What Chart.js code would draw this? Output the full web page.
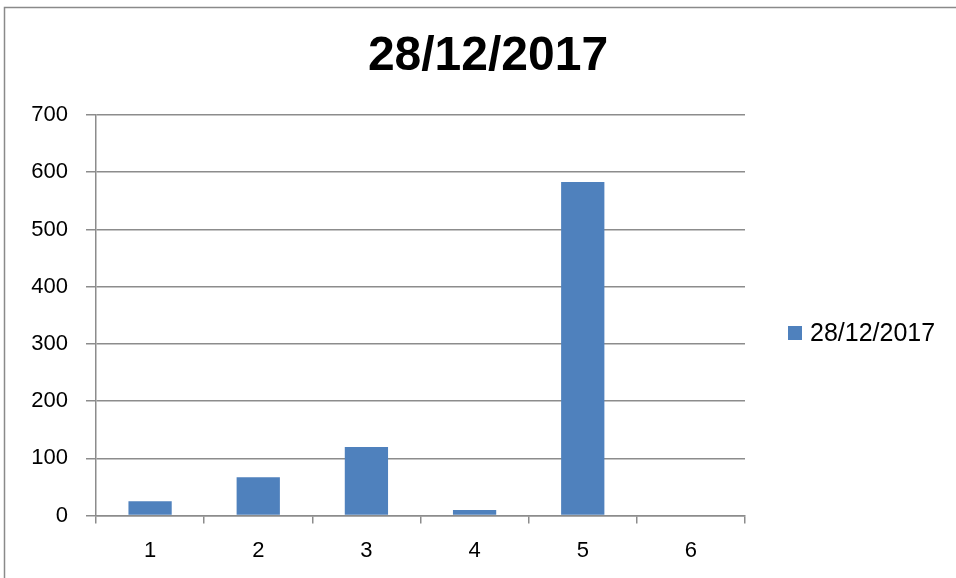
<!DOCTYPE html>
<html>
<head>
<meta charset="utf-8">
<script src="https://cdn.jsdelivr.net/npm/chart.js@4/dist/chart.umd.min.js"></script>
<style>
html,body{margin:0;padding:0;background:#fff;}
#wrap{width:956px;height:578px;position:relative;}
</style>
</head>
<body>
<div id="wrap"><canvas id="c" width="956" height="578"></canvas></div>
<script>
const categories = ["1", "2", "3", "4", "5", "6"];
const seriesName = "28/12/2017";
const values = [25, 67, 120, 10, 583, 0];
const yTicks = [0, 100, 200, 300, 400, 500, 600, 700];
const chartTitle = "28/12/2017";

const BAR = "#4f81bd";
const GRID = "#8c8c8c";
const FONT = "'Liberation Sans', Arial, sans-serif";

const framePlugin = {
  id: "frame",
  beforeDraw(chart) {
    const ctx = chart.ctx;
    ctx.save();
    ctx.fillStyle = "#fff";
    ctx.fillRect(0, 0, chart.width, chart.height);
    ctx.strokeStyle = "#8a8a8a";
    ctx.lineWidth = 1.5;
    ctx.strokeRect(4.5, 7.5, 2000, 2000);
    ctx.restore();
  },
  afterDraw(chart) {
    const ctx = chart.ctx;
    const ds = chart.data.datasets[0];
    ctx.save();
    // title
    ctx.fillStyle = "#000";
    ctx.font = "bold 48px " + FONT;
    ctx.textAlign = "center";
    ctx.textBaseline = "middle";
    ctx.fillText(chartTitle, 488, 57);
    // legend
    ctx.fillStyle = ds.backgroundColor;
    ctx.fillRect(788, 326, 14, 14);
    ctx.fillStyle = "#000";
    ctx.font = "25px " + FONT;
    ctx.textAlign = "left";
    ctx.textBaseline = "middle";
    ctx.fillText(ds.label, 810, 334);
    ctx.restore();
  }
};

new Chart(document.getElementById("c"), {
  type: "bar",
  data: {
    labels: categories,
    datasets: [{
      label: seriesName,
      data: values,
      backgroundColor: BAR,
      borderWidth: 0,
      barPercentage: 0.4,
      categoryPercentage: 1.0
    }]
  },
  options: {
    responsive: false,
    animation: false,
    devicePixelRatio: 1,
    layout: { padding: { left: 0, right: 211, top: 115, bottom: 0 } },
    plugins: {
      legend: { display: false },
      tooltip: { enabled: false },
      title: { display: false }
    },
    scales: {
      x: {
        offset: true,
        grid: {
          offset: true,
          drawOnChartArea: false,
          drawTicks: true,
          tickLength: 8,
          color: GRID,
          lineWidth: 1.5
        },
        border: { display: true, color: GRID, width: 1.5 },
        ticks: {
          color: "#000",
          padding: 14,
          font: { family: FONT, size: 22 },
          maxRotation: 0
        }
      },
      y: {
        min: 0,
        max: 700,
        afterFit(scale) { scale.width = 96; },
        afterBuildTicks(scale) { scale.ticks = yTicks.map(v => ({ value: v })); },
        grid: {
          color: GRID,
          lineWidth: 1.5,
          drawTicks: true,
          tickLength: 10
        },
        border: { display: true, color: GRID, width: 1.5 },
        ticks: {
          color: "#000",
          padding: 18,
          font: { family: FONT, size: 22 }
        }
      }
    }
  },
  plugins: [framePlugin]
});
</script>
</body>
</html>
